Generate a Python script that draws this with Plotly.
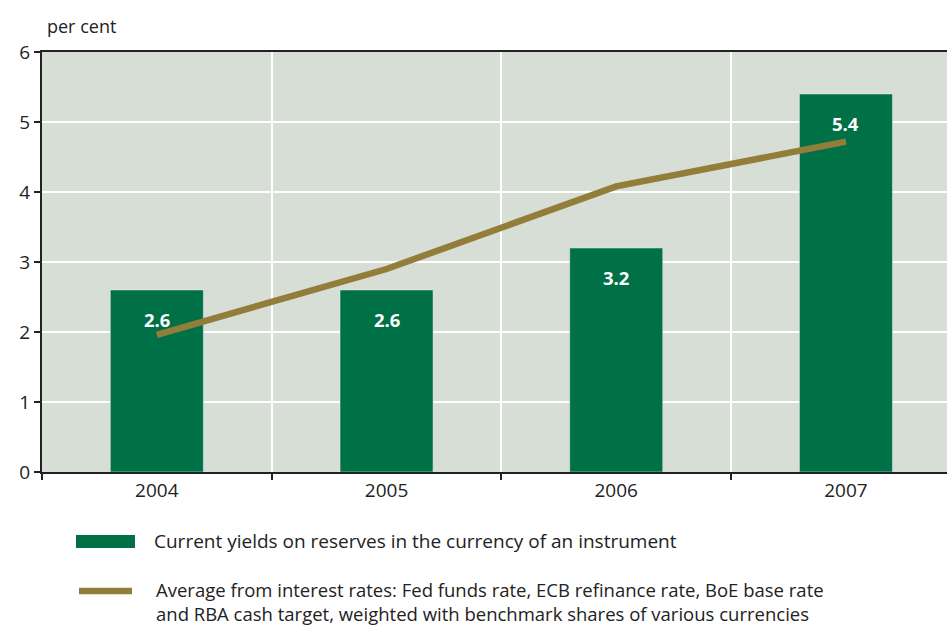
import plotly.graph_objects as go

years = ["2004", "2005", "2006", "2007"]
reserve_yields = [2.6, 2.6, 3.2, 5.4]
benchmark_average = [1.96, 2.9, 4.08, 4.72]

bar_label = "Current yields on reserves in the currency of an instrument"
line_label = ("Average from interest rates: Fed funds rate, ECB refinance rate, BoE base rate"
              "<br>and RBA cash target, weighted with benchmark shares of various currencies")

GREEN = "#007047"
GOLD = "#937D3A"
BG = "#D7DED6"
INK = "#222222"
FONT = "Open Sans"

fig = go.Figure()
fig.add_trace(go.Bar(x=years, y=reserve_yields, marker_color=GREEN, width=0.405,
                     showlegend=False, hoverinfo="skip"))
fig.add_trace(go.Scatter(x=years, y=benchmark_average, mode="lines",
                         line=dict(color=GOLD, width=6.5), showlegend=False))

# value labels just below the top of each bar (category index as x position)
for i, v in enumerate(reserve_yields):
    fig.add_annotation(x=i, y=v, text=f"<b>{v:.1f}</b>", showarrow=False,
                       yanchor="top", yshift=-15,
                       font=dict(family=FONT, size=18.5, color="white"))

# legend drawn underneath the plot, positioned in pixels of the page
W, H = 905.0, 420.0
def px(x):
    return (x - 42) / W
def py(y):
    return (472 - y) / H

# unit label above the axis
fig.add_annotation(xref="paper", yref="paper", x=px(45), y=py(26),
                   xanchor="left", yanchor="middle", text="per cent", showarrow=False,
                   font=dict(family=FONT, size=18, color=INK))

fig.add_shape(type="rect", xref="paper", yref="paper",
              x0=px(76), x1=px(135), y0=py(535), y1=py(548),
              fillcolor=GREEN, line_width=0)
fig.add_shape(type="line", xref="paper", yref="paper",
              x0=px(79), x1=px(132), y0=py(591), y1=py(591),
              line=dict(color=GOLD, width=6.5))
fig.add_annotation(xref="paper", yref="paper", x=px(152), y=py(541),
                   xanchor="left", yanchor="middle", text=bar_label, showarrow=False,
                   font=dict(family=FONT, size=19, color=INK))
fig.add_annotation(xref="paper", yref="paper", x=px(155), y=py(576),
                   xanchor="left", yanchor="top", text=line_label, showarrow=False,
                   align="left", borderpad=0,
                   font=dict(family=FONT, size=18.5, color=INK))

fig.update_layout(
    width=947, height=625,
    margin=dict(l=42, r=0, t=52, b=153),
    plot_bgcolor=BG, paper_bgcolor="white",
    font=dict(family=FONT, size=19, color=INK),
    xaxis=dict(type="category", range=[-0.5, 3.44], tickson="boundaries",
               showgrid=True, gridcolor="white", gridwidth=1.5,
               showline=True, linecolor=INK, linewidth=2, mirror=True,
               ticks="outside", ticklen=6, tickcolor=INK, tickwidth=1.5,
               tickfont=dict(size=19, color=INK)),
    yaxis=dict(range=[0, 6], dtick=1, showgrid=True, gridcolor="white", gridwidth=1.5,
               showline=True, linecolor=INK, linewidth=2, zeroline=False,
               ticks="outside", ticklen=6, tickcolor=INK, tickwidth=1.5,
               tickfont=dict(size=19, color=INK)),
)

fig.write_html("out.html")
